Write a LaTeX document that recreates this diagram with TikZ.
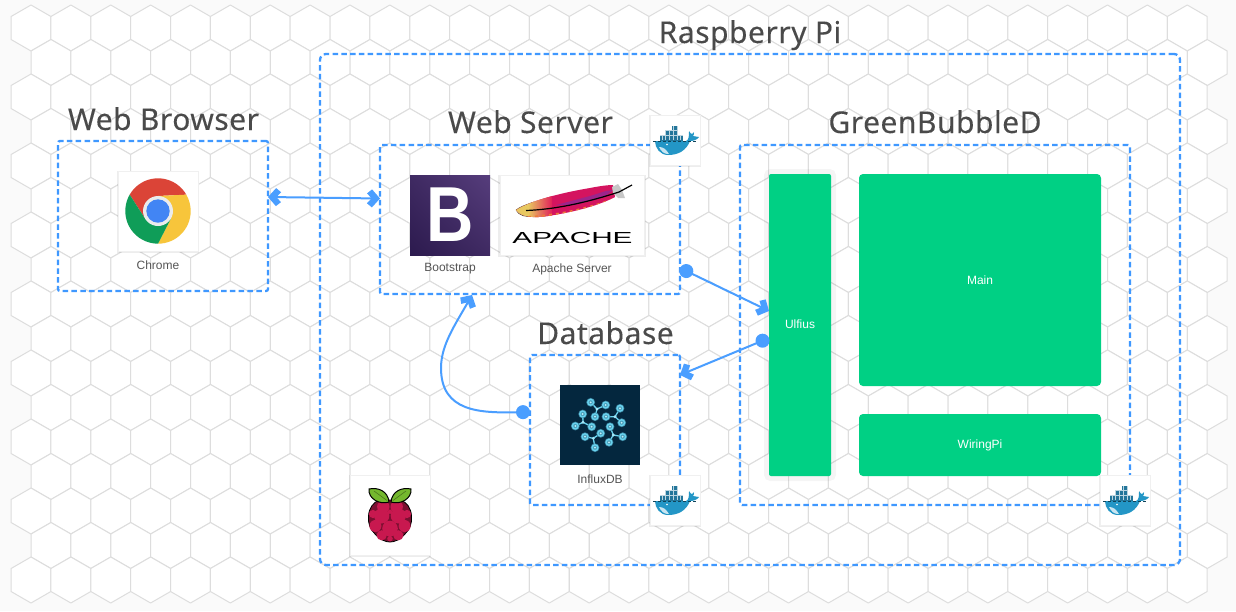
\documentclass[tikz,border=0pt]{standalone}
\usepackage{fontspec}
\usepackage{graphicx}
\setmainfont{Liberation Sans}
\newfontfamily\titlefont[LetterSpace=1.7,FakeBold=0.12]{Noto Sans}
\newfontfamily\logofont{Liberation Sans}
\usetikzlibrary{arrows.meta,shadows,shadings,calc}
\definecolor{bgc}{HTML}{FAFAFA}
\definecolor{hexc}{HTML}{DDDDDD}
\definecolor{dashc}{HTML}{3F98FF}
\definecolor{linec}{HTML}{4A9EFF}
\definecolor{greenc}{HTML}{00D084}
\definecolor{titlec}{HTML}{4A4A4A}
\definecolor{capc}{HTML}{555555}
\definecolor{whaleb}{HTML}{2396C6}
\definecolor{whaled}{HTML}{24769A}
\definecolor{berry}{HTML}{C8184F}
\definecolor{berrygap}{HTML}{7A0F30}
\definecolor{leaf}{HTML}{74B82E}
\definecolor{influxbg}{HTML}{04273E}
\definecolor{influxc}{HTML}{6AD4F0}
\definecolor{fa}{HTML}{E8C860}
\definecolor{fb}{HTML}{EE7B3A}
\definecolor{fc}{HTML}{E0205A}
\definecolor{fd}{HTML}{D4145F}
\definecolor{bsa}{HTML}{2C1A4E}
\definecolor{bsb}{HTML}{3F2A62}
\definecolor{bsc}{HTML}{563D7C}
\definecolor{chr}{HTML}{DB4437}
\definecolor{chy}{HTML}{F7C53B}
\definecolor{chg}{HTML}{0F9D58}
\definecolor{chb}{HTML}{4285F4}
\definecolor{featherv}{HTML}{8A2A9A}
\pgfdeclarearrow{
  name=ChevBlock,
  setup code={\pgfarrowssettipend{0pt}\pgfarrowssetlineend{-7pt}\pgfarrowssetbackend{-13pt}\pgfarrowssetvisualbackend{-7pt}},
  drawing code={
    \pgfsetfillcolor{linec}
    \pgfpathmoveto{\pgfqpoint{0pt}{0pt}}
    \pgfpathlineto{\pgfqpoint{-8pt}{9pt}}
    \pgfpathlineto{\pgfqpoint{-13pt}{5pt}}
    \pgfpathlineto{\pgfqpoint{-8.5pt}{0pt}}
    \pgfpathlineto{\pgfqpoint{-13pt}{-5pt}}
    \pgfpathlineto{\pgfqpoint{-8pt}{-9pt}}
    \pgfpathclose
    \pgfusepathqfill
  }
}
\tikzset{
  group/.style={draw=dashc,line width=2.3pt,dash pattern=on 5.5pt off 3.3pt,rounded corners=2pt,inner sep=0pt,outer sep=0pt},
  card/.style={fill=white,draw=black!6,line width=.5pt,inner sep=0pt,outer sep=0pt,
    general shadow={shadow yshift=-1pt,fill=black,opacity=.07,shadow scale=1.03}},
  greenbox/.style={fill=greenc,rounded corners=4pt,inner sep=0pt,outer sep=0pt,text=white,font=\fontsize{12}{14}\selectfont},
  title/.style={anchor=base,text=titlec,font=\titlefont\fontsize{30}{34}\selectfont,inner sep=0pt},
  caption/.style={text=capc,font=\fontsize{12}{14}\selectfont,inner sep=0pt},
  hexa/.style={fill=white,draw=hexc,line width=1pt,line join=round},
  conn/.style={draw=linec,line width=2pt},
  dottip/.tip={Circle[length=14pt]},
  dockericon/.pic={
    \fill[whaled] (-15,-5) rectangle (8,1);
    \fill[whaled] (-10,-10) rectangle (2,-5);
    \fill[whaled] (-3,-14) rectangle (2,-10);
    \draw[white!70!whaled,line width=.4pt] (-15,-5)--(8,-5) (-10,-10)--(2,-10) (-10,-10)--(-10,0) (-6,-10)--(-6,0) (-2,-14)--(-2,0) (2,-14)--(2,0) (-13,-5)--(-13,0) (5,-5)--(5,0);
    \fill[whaleb] (-20,1) -- (11,1) .. controls (14,0) and (14,-4) .. (14,-9) .. controls (15,-7) and (16,-6) .. (17,-6) .. controls (18,-7) and (19,-8) .. (19,-8) .. controls (19,-6) and (19,-5) .. (18,-4) -- (24,-3) .. controls (22,0) and (18,1) .. (15,1) .. controls (11,11) and (3,15) .. (-7,15) .. controls (-15,15) and (-20,8) .. (-20,1) -- cycle;
    \fill[white!75!whaleb] (-16,7) .. controls (-12,7) and (-9,9) .. (-6,14) .. controls (-11,14.5) and (-14,11) .. (-16,7) -- cycle;
    \fill[white] (-8,4.5) circle (.8);
    \draw[black!55!whaleb,line width=.5pt,dash pattern=on 2.5pt off 2.5pt] (-22,1)--(22,1);
  },
  raspicon/.pic={
    \filldraw[fill=berrygap,draw=black,line width=.8pt] (-10,-15) .. controls (-17,-13) and (-21,-7) .. (-21.5,1) .. controls (-22,9) and (-20,14) .. (-15,19) .. controls (-10,25) and (-4,27) .. (0,27) .. controls (4,27) and (10,25) .. (15,19) .. controls (20,14) and (22,9) .. (21.5,1) .. controls (21,-7) and (17,-13) .. (10,-15) -- cycle;
    \foreach \bx/\by/\br in {-6.7/-8.3/6.2,6.7/-8.3/6.2,-8.3/0.9/7.6,8.3/0.9/7.6,-17/-1/4.1,17/-1/4.1,0/13.5/7.8,-14.6/11/6,14.6/11/6,-8.3/20.3/5.1,8.3/20.3/5.1,0/23.6/2.8,0/-3.3/2.2}
      \fill[berry] (\bx,\by) circle (\br);
    \filldraw[fill=leaf,draw=black,line width=1pt] (-1,-13) .. controls (-2,-24) and (-12,-28) .. (-21,-26) .. controls (-22,-16) and (-10,-10) .. (-1,-13) -- cycle;
    \filldraw[fill=leaf,draw=black,line width=1pt] (1,-13) .. controls (2,-24) and (12,-28) .. (21,-26) .. controls (22,-16) and (10,-10) .. (1,-13) -- cycle;
    \draw[black!40!leaf,line width=.5pt] (-3,-14.5) -- (-16,-24) (3,-14.5) -- (16,-24);
  },
  influxicon/.pic={
    \foreach \cx/\cy/\ax/\ay/\bx/\by/\ex/\ey in {
      -3/-16/-9.3/-22.7/5.7/-20/-5/-8.3,
      -17/-2.7/-17.3/-11/-24.7/1/-8.3/1.7,
      15/-8.3/20/-16.7/6/-8.3/21.7/-2.3,
      -6.7/13.3/-15/11.7/0.7/8.3/-5/22.7,
      13.3/10/10/1.7/22.7/11.7/9/17.3}{
      \draw[influxc,line width=1.3pt] (\ax,\ay)--(\cx,\cy)--(\bx,\by) (\cx,\cy)--(\ex,\ey);
      \fill[white!40!influxc] (\cx,\cy) circle (1.6);
      \foreach \nx/\ny in {\ax/\ay,\bx/\by,\ex/\ey}{
        \fill[influxc!55!influxbg] (\nx,\ny) circle (4.4);
        \fill[influxc] (\nx,\ny) circle (3.6);
        \fill[influxbg!30!influxc] (\nx,\ny) circle (2.1);
        \fill[white!60!influxc] (\nx,\ny) circle (1);
      }
    }
  },
}
\begin{document}
\begin{tikzpicture}[x=1pt,y=-1pt]
\useasboundingbox (0,0) rectangle (1236,611);
\fill[bgc] (0,0) rectangle (1236,611);
% hexagon backdrop
\foreach \r in {0,...,16}{
  \pgfmathsetmacro\ox{mod(\r,2)==0?31:51}
  \pgfmathsetmacro\cy{28+34.5*\r}
  \foreach \c in {0,...,29}{
    \pgfmathsetmacro\cx{\ox+39.87*\c}
    \draw[hexa] (\cx,\cy-23) -- (\cx+19.93,\cy-11.5) -- (\cx+19.93,\cy+11.5) -- (\cx,\cy+23) -- (\cx-19.93,\cy+11.5) -- (\cx-19.93,\cy-11.5) -- cycle;
  }
}
% groups
\node[group,rounded corners=6pt,minimum width=860pt,minimum height=511pt] (pi) at (750,309.5) {};
\node[group,minimum width=210pt,minimum height=150pt] (browser) at (163,216) {};
\node[group,minimum width=300pt,minimum height=149pt] (web) at (530,219.5) {};
\node[group,minimum width=150pt,minimum height=150pt] (db) at (605,430) {};
\node[group,minimum width=390pt,minimum height=360pt] (gbd) at (935,325) {};
% titles
\node[title] (tpi) at (750,43) {Raspberry Pi};
\node[title] (tbrowser) at (163.5,130) {Web Browser};
\node[title] (tweb) at (530.5,133) {Web Server};
\node[title] (tgbd) at (935,133) {GreenBubbleD};
\node[title] (tdb) at (605.5,344) {Database};
% chrome
\node[card,minimum size=80pt] (chrome) at (158,211) {};
\begin{scope}[shift={(chrome.center)},y=1pt]
  \def\rr{32.7}\def\ri{15}
  \fill[chr] (30:\rr) arc[start angle=30,end angle=150,radius=\rr] -- (210:\ri) -- (0,0) -- (90:\ri) -- cycle;
  \fill[chy] (-90:\rr) arc[start angle=-90,end angle=30,radius=\rr] -- (90:\ri) -- (0,0) -- (-30:\ri) -- cycle;
  \fill[chg] (150:\rr) arc[start angle=150,end angle=270,radius=\rr] -- (-30:\ri) -- (0,0) -- (210:\ri) -- cycle;
  \fill[white!92!black] (0,0) circle (15);
  \fill[chb] (0,0) circle (11.7);
\end{scope}
\node[caption] (lchrome) at (158,265) {Chrome};
% bootstrap
\node[inner sep=0pt,outer sep=0pt,minimum size=80pt,lower left=bsa,upper right=bsc,lower right=bsb,upper left=bsb,text=white,font=\logofont\bfseries\fontsize{78}{78}\selectfont] (bootstrap) at (450,215) {\scalebox{.84}[1]{B}};
\node[caption] (lboot) at (450,269) {Bootstrap};
% apache
\node[card,minimum width=144pt,minimum height=80pt] (apache) at (572,215) {};
\draw[black!70!fa,line width=.6pt] (516,210) .. controls (520,207) and (525,205) .. (534,202) (516,210) .. controls (519,216) and (526,217) .. (534,216.5);
\begin{scope}
  \clip (516,210) .. controls (530,201) and (560,193) .. (590,188) .. controls (600,186) and (608,185) .. (613,185) -- (615,197) .. controls (600,205) and (575,212) .. (548,216) .. controls (535,218) and (522,218) .. (516,210) -- cycle;
  \fill[fd] (510,180) rectangle (620,220);
  \shade[left color=fa,right color=fc] (528,180) rectangle (552,220);
  \fill[fa] (510,180) rectangle (528.2,220);
  \fill[featherv!75!fd] (556,205) -- (590,196) -- (606,191) -- (613,190) -- (604,197) -- (575,205) -- cycle;
  \draw[line width=1.8pt,fb,dash pattern=on 3pt off 4pt] (528,217) .. controls (560,215) and (590,208) .. (616,198);
\end{scope}
\fill[black!22] (612,187) -- (618,184) -- (622,190) -- (625,198) -- (618,198) -- (613,193) -- cycle;
\draw[black,line width=1.2pt] (526,210.5) .. controls (565,209) and (600,198) .. (619,192) -- (632,185);
\node[inner sep=0pt,text=black,font=\logofont\fontsize{16}{16}\selectfont] (apachelogo) at (572.5,237.5) {\scalebox{1.86}[1]{APACHE}};
\node[caption] (lapache) at (572,269) {Apache Server};
% influx
\node[fill=influxbg,inner sep=0pt,outer sep=0pt,minimum size=80pt] (influx) at (600,425) {};
\pic at (influx.center) {influxicon};
\node[caption] (linflux) at (600,479) {InfluxDB};
% raspberry
\node[card,minimum size=80pt] (rasp) at (390,515) {};
\pic at (rasp.center) {raspicon};
% docker cards
\node[card,minimum size=50pt] (dockerA) at (675,140) {};
\pic at (dockerA.center) {dockericon};
\node[card,minimum size=50pt] (dockerB) at (675,500) {};
\pic at (dockerB.center) {dockericon};
\node[card,minimum size=50pt] (dockerC) at (1125,500) {};
\pic at (dockerC.center) {dockericon};
% green boxes
\node[greenbox,rounded corners=2pt,minimum width=62pt,minimum height=302pt,general shadow={draw=black,line width=10pt,fill=black,opacity=.04,shadow scale=1}] (ulfius) at (800,325) {};
\node[text=white,inner sep=0pt,font=\fontsize{12}{14}\selectfont] (lulfius) at (800,324) {Ulfius};
\node[greenbox,minimum width=242pt,minimum height=212pt] (main) at (980,280) {Main};
\node[greenbox,minimum width=242pt,minimum height=62pt] (wiring) at (980,445) {WiringPi};
% connectors
\draw[conn,{ChevBlock}-{ChevBlock}] ([yshift=19pt]browser.east) -- ([yshift=21pt]web.west);
\draw[conn,{dottip}-{ChevBlock}] ([yshift=-48.5pt]web.east) -- ([yshift=14pt]ulfius.west);
\draw[conn,{dottip}-{ChevBlock}] ([yshift=-13pt]ulfius.west) -- ([yshift=55pt]db.east);
\coordinate (bend) at (441,368);
\draw[conn,{dottip}-{ChevBlock}] ([yshift=18pt]db.west) .. controls (480,413) and (441,412) .. (bend) .. controls (441,345) and (455,325) .. ([xshift=-58pt,yshift=-1pt]web.south);
\end{tikzpicture}
\end{document}
